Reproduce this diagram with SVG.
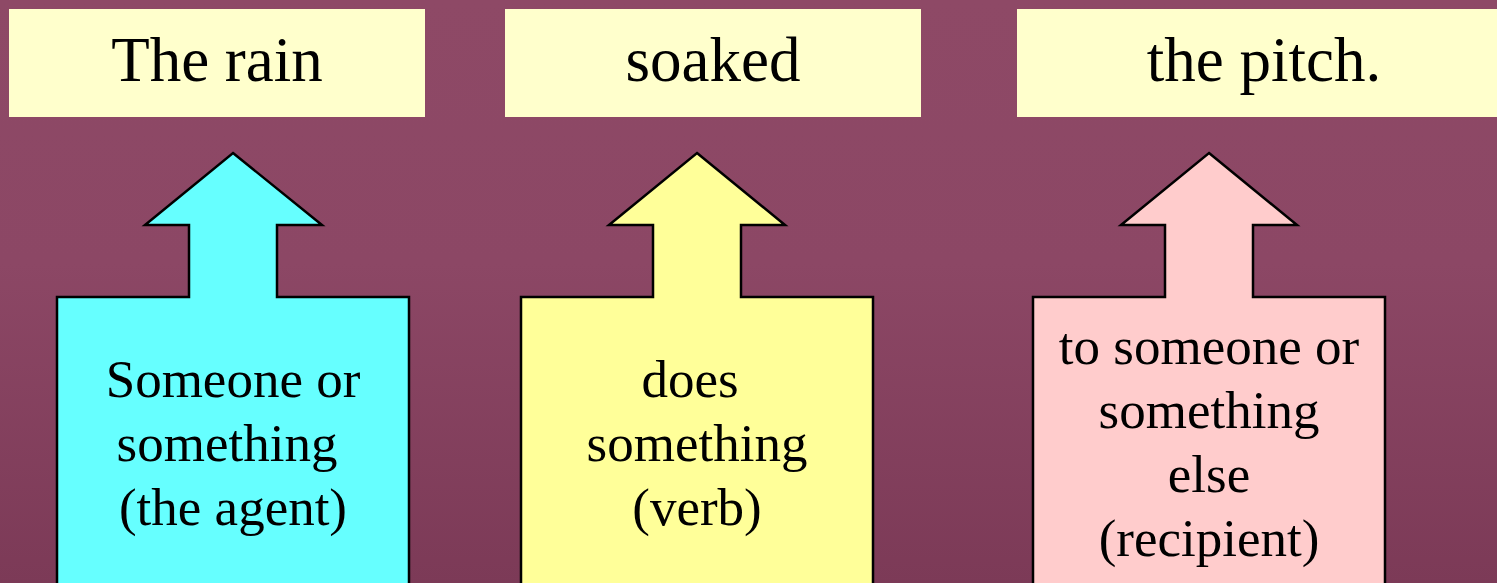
<svg xmlns="http://www.w3.org/2000/svg" width="1497" height="583" viewBox="0 0 1497 583">
<defs>
<linearGradient id="bg" x1="0" y1="0" x2="0" y2="1">
<stop offset="0" stop-color="#8E4966"/>
<stop offset="0.45" stop-color="#8C4765"/>
<stop offset="1" stop-color="#7C3A57"/>
</linearGradient>
</defs>
<style>
.word{fill:#FFFFCC}
.t{font-family:"Liberation Serif","Times New Roman",serif;fill:#000;text-anchor:middle}
.big{font-size:63px}
.mid{font-size:53px}
.arr{stroke:#000;stroke-width:2.5;stroke-linejoin:miter}
</style>
<rect width="1497" height="583" fill="url(#bg)"/>
<g id="word1"><rect class="word" x="9" y="9" width="416" height="108"/><text class="t big" x="217" y="81">The rain</text></g>
<g id="word2"><rect class="word" x="505" y="9" width="416" height="108"/><text class="t big" x="713" y="81">soaked</text></g>
<g id="word3"><rect class="word" x="1017" y="9" width="480" height="108"/><text class="t big" x="1264" y="81">the pitch.</text></g>
<g id="connectors"></g>
<g id="agent"><path class="arr" fill="#66FFFF" d="M233,153 L322,225 L277,225 L277,297 L409,297 L409,590 L57,590 L57,297 L189,297 L189,225 L145,225 Z"/>
<text class="t mid" x="233" y="397">Someone or</text><text class="t mid" x="227" y="461">something</text><text class="t mid" x="233" y="525">(the agent)</text></g>
<g id="verb"><path class="arr" fill="#FFFF99" d="M697,153 L785,225 L741,225 L741,297 L873,297 L873,590 L521,590 L521,297 L653,297 L653,225 L609,225 Z"/>
<text class="t mid" x="690" y="397">does</text><text class="t mid" x="697" y="461">something</text><text class="t mid" x="697" y="525">(verb)</text></g>
<g id="recipient"><path class="arr" fill="#FFCCCC" d="M1209,153 L1297,225 L1253,225 L1253,297 L1385,297 L1385,590 L1033,590 L1033,297 L1165,297 L1165,225 L1121,225 Z"/>
<text class="t mid" x="1209" y="364">to someone or</text><text class="t mid" x="1209" y="428">something</text><text class="t mid" x="1209" y="492">else</text><text class="t mid" x="1209" y="556">(recipient)</text></g>
</svg>
